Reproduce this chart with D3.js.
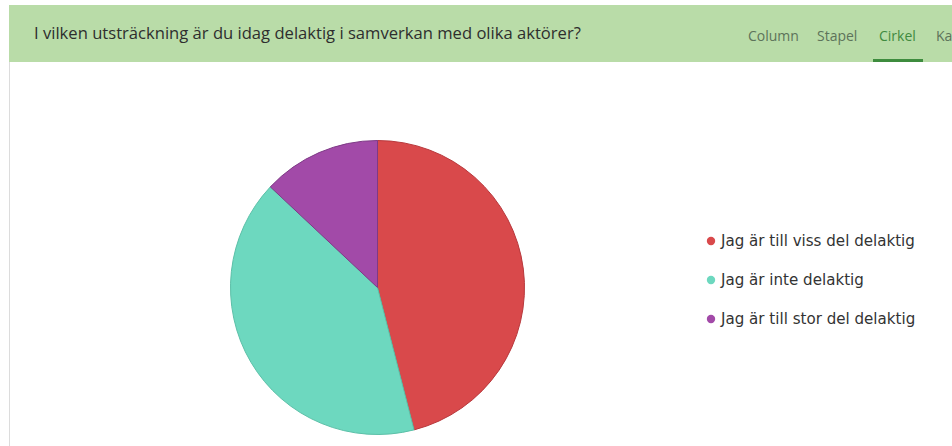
<!DOCTYPE html>
<html><head><meta charset="utf-8">
<script src="https://cdn.jsdelivr.net/npm/d3@7"></script>
<style>
html,body{margin:0;padding:0;background:#fff;overflow:hidden;}
svg{display:block;}
</style></head>
<body>
<svg id="c" width="952" height="446"></svg>
<script>
const title = "I vilken utsträckning är du idag delaktig i samverkan med olika aktörer?";
const tabs = ["Column", "Stapel", "Cirkel", "Karta"];
const activeTab = "Cirkel";
const categories = ["Jag är till viss del delaktig", "Jag är inte delaktig", "Jag är till stor del delaktig"];
const values = [46, 41, 13];
const colors = ["#d9494b", "#6dd8bf", "#a24aa8"];
const strokes = ["#b8383c", "#5cc0a8", "#7e3a86"];

const svg = d3.select("#c");
const font = "'Open Sans', 'Noto Sans', sans-serif";

// frame
svg.append("rect").attr("x", 9).attr("y", 5).attr("width", 943).attr("height", 57).attr("fill", "#b9dca8");
svg.append("line").attr("x1", 9.5).attr("x2", 9.5).attr("y1", 62).attr("y2", 446).attr("stroke", "#dcdcdc");

svg.append("text").attr("x", 34).attr("y", 39).attr("font-family", font).attr("font-size", 16.6)
  .attr("fill", "#2e2e2e").text(title);

const tabX = [748, 817, 879, 936];
tabs.forEach((t, i) => {
  svg.append("text").attr("x", tabX[i]).attr("y", 41).attr("font-family", font).attr("font-size", 14)
    .attr("fill", t === activeTab ? "#3f8a3f" : "#5d735a").text(t);
});
svg.append("rect").attr("x", 873).attr("y", 59).attr("width", 50).attr("height", 3).attr("fill", "#3e8c3e");

// pie
const cx = 377.5, cy = 287.5, r = 147;
const pie = d3.pie().sort(null).value(d => d)(values);
const arc = d3.arc().innerRadius(0).outerRadius(r);
const g = svg.append("g").attr("transform", `translate(${cx},${cy})`);
g.selectAll("path").data(pie).join("path")
  .attr("d", arc)
  .attr("fill", (d, i) => colors[i])
  .attr("stroke", (d, i) => strokes[i])
  .attr("stroke-width", 1);

// legend
const ly = d3.scalePoint().domain(categories).range([241, 319]);
const lg = svg.append("g");
categories.forEach((c, i) => {
  const y = ly(c);
  lg.append("circle").attr("cx", 711).attr("cy", y).attr("r", 4.2).attr("fill", colors[i]);
  lg.append("text").attr("x", 721).attr("y", y + 5).attr("font-family", "'DejaVu Sans', sans-serif").attr("font-size", 15.1)
    .attr("fill", "#333").text(c);
});
</script>
</body></html>
